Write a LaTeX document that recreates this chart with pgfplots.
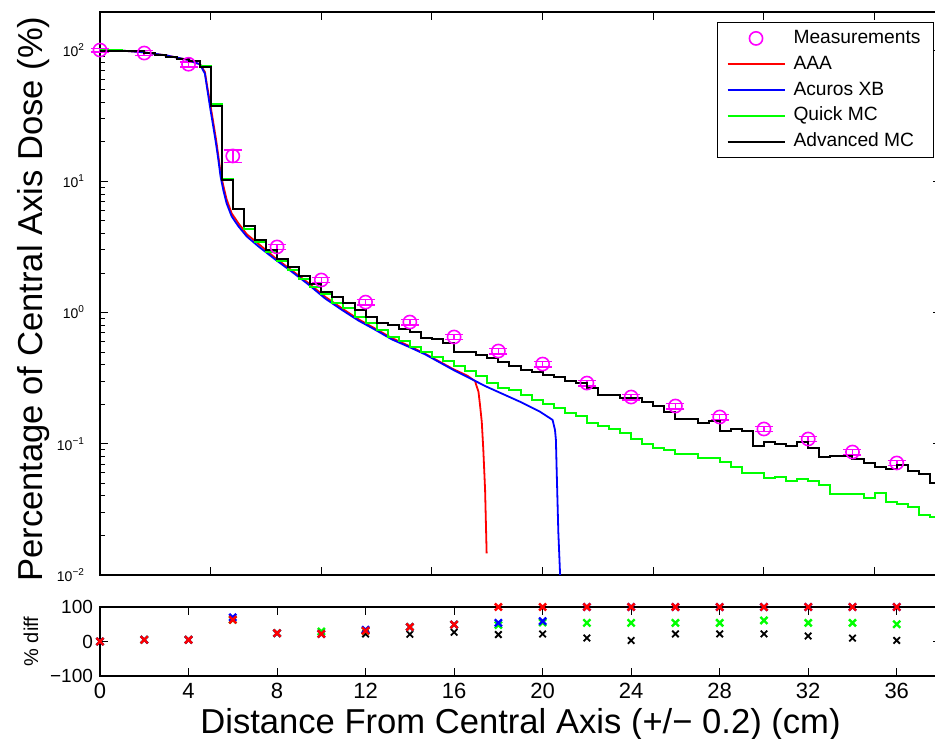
\documentclass[border=0pt]{standalone}
\usepackage{fontspec}
\setmainfont{Liberation Sans}
\usepackage{pgfplots}
\usepackage{pgfplotstable}
\pgfplotsset{compat=1.18}
\definecolor{mag}{RGB}{255,0,255}
\definecolor{grn}{RGB}{0,255,0}
\definecolor{rd}{RGB}{255,0,0}
\definecolor{bl}{RGB}{0,0,255}
\pgfplotsset{
  lineleg/.style={legend image code/.code={\draw[##1] (0pt,0pt) -- (28.5pt,0pt);}},
  markleg/.style={legend image code/.code={\draw[##1, mark repeat=2, mark phase=2] plot coordinates {(0pt,0pt) (14.25pt,0pt) (28.5pt,0pt)};}},
}

\pgfplotstableread{
x y ey
0 100 3
2 94.9 4
4 78 3.5
6 15.6 1.7
8 3.16 0.14
10 1.77 0.08
12 1.20 0.055
14 0.846 0.04
16 0.651 0.03
18 0.509 0.024
20 0.405 0.019
22 0.290 0.014
24 0.227 0.011
26 0.194 0.009
28 0.160 0.0075
30 0.1296 0.006
32 0.1087 0.005
34 0.0865 0.004
36 0.0714 0.0033
}\meas

\pgfplotstableread{
x y
0 100
1 99
2 96
3 91
4 84
4.3 80
4.52 78
4.74 68
4.85 52
4.97 40
5.12 28
5.24 21
5.35 15.5
5.45 11.5
5.57 9.3
5.72 7.3
5.95 5.7
6.25 4.8
6.63 3.95
7.15 3.35
7.9 2.62
8.66 2.1
9.41 1.68
10.17 1.32
10.92 1.08
11.67 0.89
12.43 0.755
13.18 0.64
13.93 0.56
14.69 0.485
15.97 0.37
16.6 0.33
16.95 0.30
17.0 0.28
17.1 0.25
17.17 0.198
17.25 0.147
17.32 0.09
17.4 0.0445
17.47 0.0146
}\aaa

\pgfplotstableread{
x y
0 100
1 99
2 96
3 91
4 84
4.3 80
4.52 78
4.74 66
4.85 50
4.97 37
5.12 26
5.24 19.5
5.35 14.5
5.45 10.8
5.57 8.6
5.72 6.8
5.95 5.4
6.25 4.55
6.63 3.8
7.15 3.2
7.9 2.55
8.66 2.05
9.41 1.64
10.17 1.28
10.92 1.05
11.67 0.87
12.43 0.74
13.18 0.625
13.93 0.55
14.69 0.48
15.97 0.365
17.47 0.272
18.98 0.209
19.88 0.1755
20.45 0.152
20.56 0.127
20.6 0.107
20.63 0.067
20.71 0.021
20.79 0.01
}\axb

\pgfplotstableread{
x y
0 100
0.5 100
1 99
1.5 98
2 95
2.5 92
3 89
3.5 86
4 83
4.5 76
5 38.6
5.5 10.5
6 6.2
6.5 4.3
7 3.45
7.5 2.91
8 2.48
8.5 2.11
9 1.79
9.5 1.57
10 1.38
10.5 1.19
11 1.077
11.5 0.929
12 0.827
12.5 0.736
13 0.655
13.5 0.610
14 0.548
14.5 0.4965
15 0.46
15.5 0.429
16 0.391
16.5 0.360
17 0.328
17.5 0.292
18 0.2646
18.5 0.2567
19 0.235
19.5 0.2155
20 0.201
20.5 0.186
21 0.1706
21.5 0.1627
22 0.1446
22.5 0.1365
23 0.1296
23.5 0.1214
24 0.1086
24.5 0.099
25 0.0933
25.5 0.0896
26 0.0836
26.5 0.0836
27 0.0783
27.5 0.0783
28 0.073
28.5 0.0661
29 0.0602
29.5 0.0602
30 0.0545
30.5 0.0561
31 0.0523
31.5 0.0539
32 0.0523
32.5 0.0485
33 0.0414
33.5 0.0414
34 0.0414
34.5 0.0384
35 0.0419
35.5 0.0362
36 0.0348
36.5 0.0328
37 0.0287
37.5 0.0275
38 0.0275
}\qmc

\pgfplotstableread{
x y
0 99
0.5 99
1 99
1.5 98
2 94.5
2.5 92
3 89
3.5 85.5
4 83
4.5 74
5 37.4
5.5 10.2
6 6.1
6.5 4.57
7 3.57
7.5 2.99
8 2.54
8.5 2.22
9 1.90
9.5 1.64
10 1.44
10.5 1.32
11 1.175
11.5 1.045
12 0.92
12.5 0.83
13 0.81
13.5 0.75
14 0.71
14.5 0.643
15 0.625
15.5 0.589
16 0.497
16.5 0.497
17 0.4745
17.5 0.448
18 0.422
18.5 0.391
19 0.365
19.5 0.354
20 0.334
20.5 0.321
21 0.302
21.5 0.289
22 0.265
22.5 0.237
23 0.237
23.5 0.222
24 0.222
24.5 0.207
25 0.194
25.5 0.1755
26 0.1535
26.5 0.1535
27 0.1446
27.5 0.149
28 0.1257
28.5 0.1296
29 0.125
29.5 0.0961
30 0.1026
30.5 0.0999
31 0.096
31.5 0.1026
32 0.0923
32.5 0.0789
33 0.0811
33.5 0.0806
34 0.0761
34.5 0.0710
35 0.0661
35.5 0.0639
36 0.0689
36.5 0.0620
37 0.0588
37.5 0.050
38 0.050
}\amc

\pgfplotstableread{
x aaa axb qmc amc
0 0 0 0 0
2 5 5 5 5
4 5 5 5 5
6 63 70 63 63
8 24 24 24 24
10 22 22 29 22
12 31 34 31 22
14 42 42 42 21
16 49 49 49 27
18 100 54 48 20
20 100 59 55 22
22 100 100 54 10
24 100 100 54 3
26 100 100 54 22
28 100 100 54 22
30 100 100 61 22
32 100 100 54 16
34 100 100 54 10
36 100 100 50 3
}\diff

\begin{document}
\begin{tikzpicture}
\begin{axis}[
  name=top, at={(0,0)}, anchor=north west,
  scale only axis, width=420.5pt, height=281.5pt,
  xmin=0, xmax=38, ymode=log, ymin=0.01, ymax=195,
  clip=false,
  xtick={5,10,...,35}, xticklabels={},
  ytick={0.01,0.1,1,10,100},
  yticklabels={10\textsuperscript{−2},10\textsuperscript{−1},10\textsuperscript{0},10\textsuperscript{1},10\textsuperscript{2}},
  yticklabel style={font=\fontsize{7}{8}\selectfont, xshift=-4pt},
  major tick length=4pt, minor tick length=2.5pt,
  axis line style={line width=0.6pt},
  every tick/.style={black, line width=0.5pt},
  every axis y label/.style={at={(axis description cs:-0.0678,0.49)}, rotate=90, anchor=base, font=\fontsize{17.3}{20}\selectfont},
  ylabel={Percentage of Central Axis Dose (\%)},
  lineleg,
  legend cell align=left,
  legend style={at={(1,1)}, anchor=north east, xshift=-3.5pt, yshift=-5pt,
    draw=black, line width=0.5pt, fill=white,
    font=\fontsize{9.6}{11}\selectfont,
    inner xsep=4.5pt, inner ysep=1.5pt, row sep=0pt, column sep=2pt,
    nodes={inner sep=2pt, text height=7pt, text depth=1.9pt}},
]
\addplot[only marks, mag, mark=o, mark size=3.3pt, mark options={line width=0.8pt},
  markleg,
  error bars/.cd, y dir=both, y explicit,
  error mark options={rotate=90, mark size=4.5pt, line width=0.8pt, mag},
  error bar style={line width=0.8pt, mag}]
  table[x=x, y=y, y error=ey] {\meas};
\addlegendentry{Measurements}
\addplot[rd, line width=0.9pt] table[x=x,y=y] {\aaa};
\addlegendentry{AAA}
\addplot[bl, line width=0.9pt] table[x=x,y=y] {\axb};
\addlegendentry{Acuros XB}
\addplot[grn, line width=1pt, const plot] table[x=x,y=y] {\qmc};
\addlegendentry{Quick MC}
\addplot[black, line width=1pt, const plot] table[x=x,y=y] {\amc};
\addlegendentry{Advanced MC}
\end{axis}

\begin{axis}[
  name=bot, at={(0,-297.5pt)}, anchor=north west,
  scale only axis, width=420.5pt, height=34.5pt,
  xmin=0, xmax=38, ymin=-100, ymax=100,
  clip=false,
  xtick={0,4,...,36}, ytick={-100,0,100},
  yticklabels={−100,0,100},
  /pgf/number format/assume math mode=true,
  xticklabel style={font=\fontsize{11}{13}\selectfont},
  yticklabel style={font=\fontsize{9.5}{11}\selectfont},
  major tick length=4pt,
  axis line style={line width=0.6pt},
  every tick/.style={black, line width=0.5pt},
  every axis y label/.style={at={(axis description cs:-0.0737,0.5)}, rotate=90, anchor=base, font=\fontsize{10}{12}\selectfont},
  ylabel={\% diff},
  every axis x label/.style={at={(axis description cs:0.5,-0.826)}, anchor=base, font=\fontsize{17.3}{20}\selectfont},
  xlabel={Distance From Central Axis (+/− 0.2) (cm)},
]
\addplot[only marks, black, mark=x, mark size=2.3pt, mark options={line width=0.9pt}] table[x=x,y=amc] {\diff};
\addplot[only marks, grn, mark=x, mark size=2.5pt, mark options={line width=1.2pt}] table[x=x,y=qmc] {\diff};
\addplot[only marks, bl, mark=x, mark size=2.5pt, mark options={line width=1.2pt}] table[x=x,y=axb] {\diff};
\addplot[only marks, rd, mark=x, mark size=2.5pt, mark options={line width=1.2pt}] table[x=x,y=aaa] {\diff};
\end{axis}
\pgfresetboundingbox
\path[use as bounding box] (-50pt,6pt) rectangle (417.5pt,-363pt);
\end{tikzpicture}
\end{document}
